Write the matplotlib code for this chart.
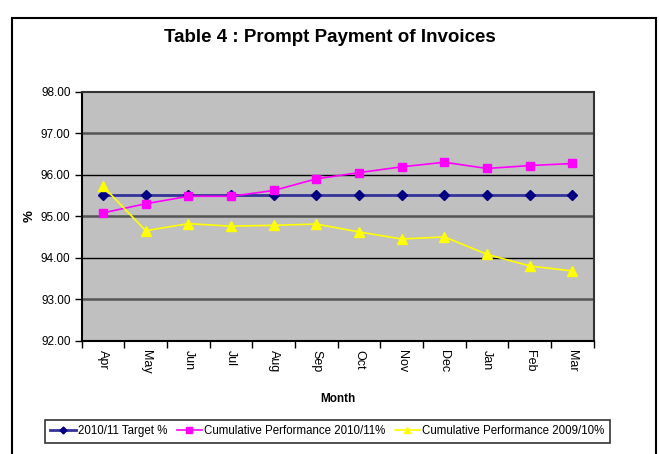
import matplotlib.pyplot as plt
from matplotlib.patches import Rectangle

plt.rcParams['font.family'] = ['Liberation Sans Narrow', 'Liberation Sans', 'DejaVu Sans']

months = ['Apr', 'May', 'Jun', 'Jul', 'Aug', 'Sep', 'Oct', 'Nov', 'Dec', 'Jan', 'Feb', 'Mar']
target = [95.5] * 12
cum_2010 = [95.08, 95.30, 95.48, 95.48, 95.62, 95.90, 96.05, 96.19, 96.30, 96.15, 96.22, 96.27]
cum_2009 = [95.72, 94.65, 94.82, 94.76, 94.78, 94.81, 94.62, 94.45, 94.50, 94.08, 93.80, 93.68]

fig = plt.figure(figsize=(6.59, 4.54), dpi=100)
ax = fig.add_axes([0.124, 0.2496, 0.777, 0.5484])
ax.set_facecolor('#C0C0C0')

x = range(len(months))
ax.plot(x, target, color='#333399', lw=2, marker='D', ms=5, mfc='#000080', mec='#000080',
        label='2010/11 Target %', zorder=3)
ax.plot(x, cum_2010, color='#FF00FF', lw=1.2, marker='s', ms=6, mfc='#FF00FF', mec='#FF00FF',
        label='Cumulative Performance 2010/11%', zorder=4)
ax.plot(x, cum_2009, color='#FFFF00', lw=1.2, marker='^', ms=7, mfc='#FFFF00', mec='#FFFF00',
        label='Cumulative Performance 2009/10%', zorder=4)

ax.set_xlim(-0.5, 11.5)
ax.set_ylim(92, 98)
ax.set_yticks([92, 93, 94, 95, 96, 97, 98])
ax.set_yticklabels(['%.2f' % v for v in [92, 93, 94, 95, 96, 97, 98]], fontsize=8.5)

# gridlines
for v in [93, 95, 97]:
    ax.axhline(v, color='#555555', lw=1.8, zorder=1)
for v in [94, 96]:
    ax.axhline(v, color='black', lw=1.0, zorder=1)

# categories centred, ticks between them
ax.set_xticks([i + 0.5 for i in range(-1, 12)])
ax.set_xticklabels([])
ax.set_xticks(list(x), minor=True)
ax.set_xticklabels(months, minor=True, rotation=270, fontsize=9, va='top', ha='center')
ax.tick_params(axis='x', which='minor', length=0, pad=7)
ax.tick_params(axis='x', which='major', length=5, direction='out', width=1)
ax.tick_params(axis='y', length=5, direction='out', width=1, pad=3)

for s in ax.spines.values():
    s.set_color('#333333')
    s.set_linewidth(1.5)
ax.spines['left'].set_color('black')
ax.spines['bottom'].set_color('black')

ax.set_xlabel('Month', fontsize=8.5, fontweight='bold', labelpad=14)
ax.set_ylabel('%', fontsize=9.5, fontweight='bold', labelpad=4)

fig.text(0.5, 0.917, 'Table 4 : Prompt Payment of Invoices', ha='center', va='center',
         fontsize=13.5, fontweight='bold')

leg = fig.legend(loc='center', bbox_to_anchor=(0.497, 0.05), ncol=3, fontsize=8.3,
                 frameon=True, fancybox=False, edgecolor='black', handlelength=2.2,
                 handletextpad=0.2, columnspacing=0.8, borderpad=0.5, markerscale=0.7)
leg.get_frame().set_linewidth(1.2)

fig.patches.append(Rectangle((0.018, -0.01), 0.977, 0.97, transform=fig.transFigure,
                             fill=False, edgecolor='black', lw=1.5))

fig.savefig('out.png', dpi=100)
